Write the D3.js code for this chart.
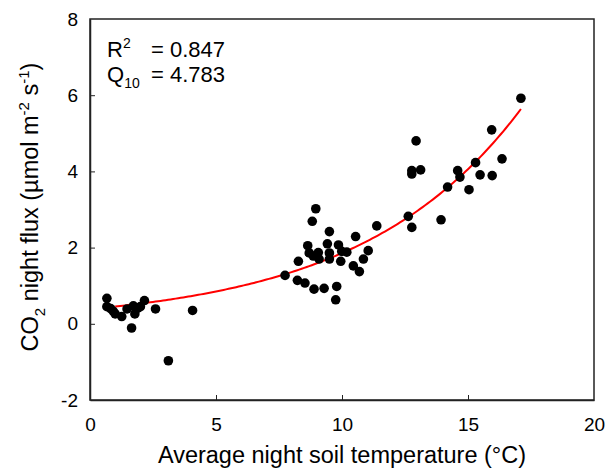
<!DOCTYPE html>
<html><head><meta charset="utf-8">
<script src="https://cdn.jsdelivr.net/npm/d3@7"></script>
<style>body{margin:0;background:#fff}svg{display:block}text{font-family:"Liberation Sans",Arial,sans-serif}</style>
</head><body><svg id="c" width="606" height="469"></svg>
<script>
const temps = [0.67,0.67,0.82,0.92,1.0,1.26,1.47,1.72,1.78,1.9,2.0,2.16,2.6,4.07,1.65,3.11,
 8.96,8.82,9.5,8.64,9.42,9.86,10.54,11.38,8.70,8.86,9.06,9.09,9.5,9.5,9.99,10.19,9.95,8.27,7.74,8.23,8.53,8.89,9.29,9.79,9.75,10.45,10.69,10.85,11.04,
 12.94,12.77,12.77,13.12,14.59,14.68,14.19,15.04,12.63,12.77,13.93,17.10,15.94,16.35,15.30,15.48,15.96];
const fluxes = [0.67,0.45,0.40,0.33,0.26,0.19,0.39,0.47,0.26,0.41,0.45,0.61,0.39,0.35,-0.11,-0.97,
 3.02,2.69,2.42,2.05,2.10,2.07,2.29,2.57,1.86,1.78,1.87,1.70,1.86,1.70,1.90,1.88,1.64,1.64,1.27,1.14,1.07,0.91,0.93,0.98,0.63,1.52,1.37,1.70,1.92,
 4.80,4.02,3.93,4.04,4.02,3.85,3.59,3.52,2.82,2.53,2.73,5.92,5.09,4.33,4.23,3.91,3.89];
const xTicks = [0,5,10,15,20];
const yTicks = [-2,0,2,4,6,8];
const fitA = 0.388, q10 = 4.783;
const fitRange = [1.0, 17.1];

const svg = d3.select("#c");
const x = d3.scaleLinear().domain([0,20]).range([90,594]);
const y = d3.scaleLinear().domain([-2,8]).range([400,19]);

svg.append("rect").attr("x",90).attr("y",19).attr("width",504).attr("height",381)
  .attr("fill","none").attr("stroke","#222").attr("stroke-width",1.5);

const xa = svg.append("g").attr("transform","translate(0,400)")
  .call(d3.axisBottom(x).tickValues(xTicks).tickSizeInner(-5).tickSizeOuter(0).tickPadding(18).tickFormat(d=>String(d)));
const ya = svg.append("g").attr("transform","translate(90,0)")
  .call(d3.axisLeft(y).tickValues(yTicks).tickSizeInner(-5).tickSizeOuter(0).tickPadding(12).tickFormat(d=>String(d)));
[xa,ya].forEach(g=>{
  g.select(".domain").attr("stroke","#222").attr("stroke-width",1.5);
  g.selectAll(".tick line").attr("stroke","#222");
  g.selectAll("text").attr("font-size",19).attr("fill","#000").attr("font-family","Liberation Sans, Arial, sans-serif");
});
xa.selectAll(".tick").filter(d=>d===0||d===20).select("line").remove();
ya.selectAll(".tick").filter(d=>d===-2||d===8).select("line").remove();

const b = Math.log(q10)/10;
const pts = d3.range(fitRange[0], fitRange[1]+0.001, 0.1).map(t=>[t, fitA*Math.exp(b*t)]);
svg.append("path").datum(pts)
  .attr("d", d3.line().x(d=>x(d[0])).y(d=>y(d[1])))
  .attr("fill","none").attr("stroke","#ff0000").attr("stroke-width",2);

svg.append("g").selectAll("circle").data(temps.map((t,i)=>[t,fluxes[i]])).join("circle")
  .attr("cx",d=>x(d[0])).attr("cy",d=>y(d[1])).attr("r",4.8).attr("fill","#000");

const ann = svg.append("g").attr("font-size",22).attr("fill","#000");
const t1 = ann.append("text").attr("x",107).attr("y",57);
t1.append("tspan").text("R");
t1.append("tspan").attr("dy",-9).attr("font-size",14).text("2");
ann.append("text").attr("x",151).attr("y",57).text("= 0.847");
const t2 = ann.append("text").attr("x",107).attr("y",82);
t2.append("tspan").text("Q");
t2.append("tspan").attr("dy",6).attr("font-size",14).text("10");
ann.append("text").attr("x",151).attr("y",82).text("= 4.783");

svg.append("text").attr("x",342).attr("y",463).attr("text-anchor","middle")
  .attr("font-size",23.5).text("Average night soil temperature (°C)");

const yl = svg.append("text").attr("transform","translate(38,207) rotate(-90)")
  .attr("text-anchor","middle").attr("font-size",23.5);
yl.append("tspan").text("CO");
yl.append("tspan").attr("dy",7).attr("font-size",15).text("2");
yl.append("tspan").attr("dy",-7).text(" night flux (µmol m");
yl.append("tspan").attr("dy",-9).attr("font-size",15).text("-2");
yl.append("tspan").attr("dy",9).text(" s");
yl.append("tspan").attr("dy",-9).attr("font-size",15).text("-1");
yl.append("tspan").attr("dy",9).text(")");
</script></body></html>
